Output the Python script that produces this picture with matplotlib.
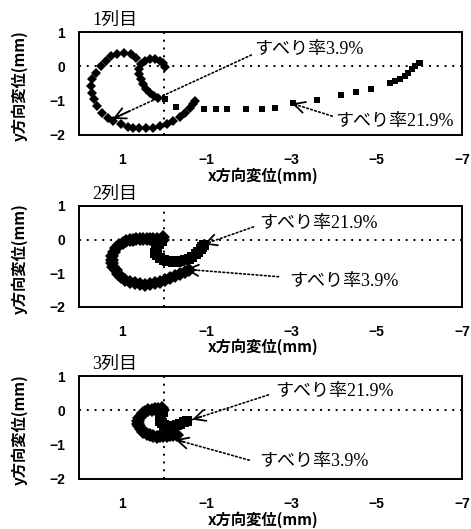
import matplotlib
matplotlib.use("Agg")
import matplotlib.pyplot as plt

JP = ["Noto Sans CJK JP", "DejaVu Sans"]
MIX = ["Liberation Serif", "Noto Sans CJK JP"]

titles = ["1列目", "2列目", "3列目"]
x_ticks = [1, -1, -3, -5, -7]
y_ticks = [1, 0, -1, -2]
label_39 = "すべり率3.9%"
label_219 = "すべり率21.9%"

# row 1
p1_39_x = [-0.03, 0.02, 0.10, 0.21, 0.34, 0.46, 0.54, 0.58, 0.58, 0.54, 0.50, 0.42, 0.34, 0.24, 0.14,
           0.66, 0.78, 0.94, 1.10, 1.25, 1.37, 1.49, 1.61, 1.69, 1.71, 1.69, 1.65, 1.57, 1.45, 1.33,
           1.21, 1.02, 0.86, 0.74, 0.58, 0.42, 0.26, 0.10, -0.06, -0.21, -0.37, -0.49, -0.61, -0.69, -0.73]
p1_39_y = [-0.01, 0.11, 0.16, 0.21, 0.22, 0.16, 0.06, -0.09, -0.23, -0.38, -0.52, -0.67, -0.77, -0.85, -0.91,
           0.25, 0.35, 0.38, 0.35, 0.30, 0.16, 0.01, -0.18, -0.38, -0.57, -0.77, -0.96, -1.16, -1.35, -1.50,
           -1.59, -1.69, -1.77, -1.81, -1.81, -1.81, -1.79, -1.74, -1.69, -1.59, -1.47, -1.35, -1.20, -1.11, -1.01]
p1_219_x = [-0.02, -0.29, -0.93, -1.21, -1.47, -1.93, -2.29, -2.60, -3.04, -3.60, -4.15, -4.51, -4.87,
            -5.30, -5.42, -5.54, -5.66, -5.74, -5.82, -5.90, -5.98, -6.02]
p1_219_y = [-0.94, -1.19, -1.25, -1.25, -1.25, -1.25, -1.23, -1.20, -1.08, -0.98, -0.84, -0.75, -0.65,
            -0.48, -0.43, -0.36, -0.28, -0.18, -0.09, 0.01, 0.09, 0.11]

# row 2
p2_39_x = [0.03, 0.02, 0.10, 0.17, 0.25, 0.33, 0.41, 0.49, 0.57, 0.65, 0.73, 0.81, 0.90, 0.97, 1.06, 1.13,
           1.18, 1.22, 1.23, 1.22, 1.19, 1.14, 1.08, 1.01, 0.91, 0.81, 0.69, 0.57, 0.45, 0.33, 0.21,
           0.09, -0.03, -0.14, -0.26, -0.38, -0.48, -0.58]
p2_39_y = [0.08, -0.02, 0.00, 0.01, 0.02, 0.01, 0.02, 0.01, 0.01, 0.01, 0.00, -0.01, -0.04, -0.09, -0.16, -0.24,
           -0.36, -0.49, -0.59, -0.69, -0.80, -0.91, -1.02, -1.11, -1.19, -1.25, -1.30, -1.33, -1.34, -1.33, -1.30,
           -1.26, -1.20, -1.13, -1.07, -1.01, -0.96, -0.91]
p2_219_x = [0.05, 0.12, 0.17, 0.20, 0.21, 0.17, 0.09, 0.00, -0.07, -0.14, -0.22, -0.30, -0.38, -0.48,
            -0.58, -0.66, -0.74, -0.80, -0.86, -0.90, -0.94]
p2_219_y = [-0.05, -0.12, -0.19, -0.29, -0.39, -0.47, -0.54, -0.59, -0.62, -0.64, -0.65, -0.65, -0.64, -0.61,
            -0.57, -0.51, -0.44, -0.37, -0.29, -0.22, -0.16]

# row 3
p3_39_x = [0.06, 0.02, 0.14, 0.21, 0.29, 0.37, 0.44, 0.49, 0.55, 0.59, 0.61, 0.61, 0.59, 0.55, 0.49,
           0.41, 0.33, 0.25, 0.17, 0.09, 0.02, -0.06, -0.14, -0.22, -0.30]
p3_39_y = [0.08, 0.02, 0.05, 0.03, 0.02, 0.00, -0.04, -0.09, -0.16, -0.23, -0.31, -0.39, -0.47, -0.55, -0.63,
           -0.69, -0.73, -0.76, -0.77, -0.76, -0.75, -0.74, -0.73, -0.72, -0.71]
p3_219_x = [0.02, 0.07, 0.10, 0.09, 0.06, 0.00, -0.06, -0.14, -0.22, -0.30, -0.38, -0.46, -0.54]
p3_219_y = [-0.05, -0.14, -0.22, -0.30, -0.37, -0.43, -0.47, -0.48, -0.47, -0.44, -0.39, -0.35, -0.32]

# (label, arrow tip, line start, text position) for each note
notes = [
    [(label_39, (1.21, -1.53), (-2.05, 0.33), (-2.12, 0.50)),
     (label_219, (-3.0, -1.08), (-3.95, -1.45), (-4.03, -1.60))],
    [(label_219, (-0.93, -0.14), (-2.10, 0.38), (-2.24, 0.48)),
     (label_39, (-0.50, -0.88), (-2.69, -1.10), (-2.93, -1.25))],
    [(label_219, (-0.66, -0.27), (-2.45, 0.45), (-2.60, 0.55)),
     (label_39, (-0.26, -0.85), (-2.00, -1.45), (-2.24, -1.50))],
]

series = [
    (p1_39_x, p1_39_y, p1_219_x, p1_219_y, 5.5, 4.5),
    (p2_39_x, p2_39_y, p2_219_x, p2_219_y, 7.0, 6.5),
    (p3_39_x, p3_39_y, p3_219_x, p3_219_y, 7.5, 7.0),
]

fig = plt.figure(figsize=(4.71, 5.29), dpi=100)
W, H = 471, 529
boxes = [(79, 32, 462, 135), (79, 206, 462, 307), (79, 376, 462, 479)]

for i, (l, t, r, b) in enumerate(boxes):
    ax = fig.add_axes([l / W, 1 - b / H, (r - l) / W, (b - t) / H])
    xd, yd, xs, ys, ms_d, ms_s = series[i]
    ax.plot(xd, yd, "D", color="black", ms=ms_d, mew=0, zorder=3)
    ax.plot(xs, ys, "s", color="black", ms=ms_s, mew=0, zorder=3)
    ax.axhline(0, color="black", lw=1.4, ls=(0, (1, 3)), zorder=1)
    ax.axvline(0, color="black", lw=1.4, ls=(0, (1, 3)), zorder=1)

    ax.set_xlim(2, -7)
    ax.set_ylim(-2, 1)
    ax.set_xticks(x_ticks)
    ax.set_yticks(y_ticks)
    ax.tick_params(length=0, labelsize=10)
    ax.tick_params(axis="x", pad=13)
    ax.tick_params(axis="y", pad=10)
    for lab in ax.get_xticklabels() + ax.get_yticklabels():
        lab.set_family("Liberation Sans")
        lab.set_fontweight("bold")
    for sp in ax.spines.values():
        sp.set_linewidth(1.4)

    ax.set_xlabel("x方向変位(mm)", family=JP, fontsize=11, fontweight="bold")
    ax.xaxis.set_label_coords(0.48, -0.31)
    ax.set_ylabel("y方向変位(mm)", family=JP, fontsize=11, fontweight="bold")
    ax.yaxis.set_label_coords(-0.135, 0.48)

    hgt = b - t
    ax.text(0.035, 1 + 12 / hgt, titles[i], transform=ax.transAxes, family=MIX,
            fontsize=13, ha="left", va="center")

    for text, tip, start, pos in notes[i]:
        ax.annotate("", xy=tip, xytext=start,
                    arrowprops=dict(arrowstyle="-", color="black", lw=1.2, ls=(0, (1, 1.5)),
                                    shrinkA=0, shrinkB=0))
        near = (tip[0] + 0.12 * (start[0] - tip[0]), tip[1] + 0.12 * (start[1] - tip[1]))
        ax.annotate("", xy=tip, xytext=near,
                    arrowprops=dict(arrowstyle="->,head_length=0.8,head_width=0.4",
                                    color="black", lw=1.3, shrinkA=0, shrinkB=0))
        ax.text(pos[0], pos[1], text, family=MIX, fontsize=13, ha="left", va="center")

fig.savefig("out.png", dpi=100)
